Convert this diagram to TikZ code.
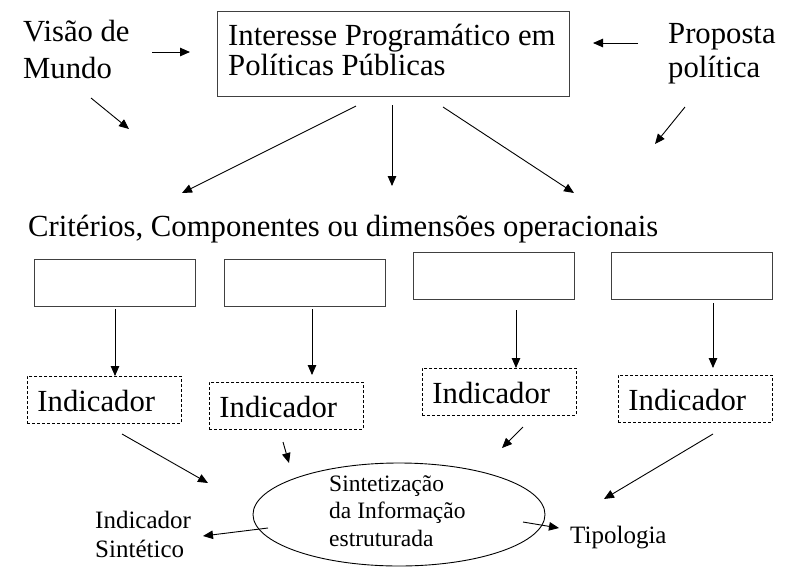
\documentclass[tikz,border=0pt]{standalone}
\usepackage{fontspec}
\setmainfont{Liberation Serif}
\usetikzlibrary{arrows.meta,shapes.geometric}
\tikzset{
  big/.style={font=\fontsize{30.7}{37}\selectfont},
  txt/.style={inner sep=0pt, anchor=base west, align=left},
  arr/.style={draw=black, line width=0.9pt, -{Triangle[length=10pt,width=8.5pt]}},
  solidbox/.style={draw=black!75, line width=0.9pt, rectangle, inner sep=0pt},
  indbox/.style={draw=black, line width=0.9pt, dash pattern=on 3pt off 2pt, rectangle, anchor=base west,
     text width=134pt, inner xsep=10pt, inner ysep=0pt, text height=35pt, text depth=12pt, align=left,
     font=\fontsize{30.7}{37}\selectfont},
}
\begin{document}
\begin{tikzpicture}[x=1pt,y=-1pt]
\useasboundingbox (0,0) rectangle (796,566);
% top texts (multi-line nodes: base = last line baseline)
\node[txt, big] (visao) at (23,78) {Visão de\\Mundo};
\node[txt, font=\fontsize{30.7}{34}\selectfont] (proposta) at (668,77) {Proposta\\política};
\node[solidbox, minimum width=352pt, minimum height=85pt] (main) at (393,53.5) {};
\node[txt, font=\fontsize{30.7}{30}\selectfont] (maintxt) at (228,75) {Interesse Programático em\\Políticas Públicas};
% criteria label
\node[txt, big] (crit) at (28,236) {Critérios, Componentes ou dimensões operacionais};
% component boxes
\node[solidbox, minimum width=161pt, minimum height=47pt] (b1) at (114.5,282.5) {};
\node[solidbox, minimum width=161pt, minimum height=47pt] (b2) at (304.5,282.5) {};
\node[solidbox, minimum width=161pt, minimum height=47pt] (b3) at (493.5,275.5) {};
\node[solidbox, minimum width=161pt, minimum height=47pt] (b4) at (691.5,275.5) {};
% indicator boxes
\node[indbox] (i1) at (27,411) {Indicador};
\node[indbox] (i2) at (209,417) {Indicador};
\node[indbox] (i3) at (422,403) {Indicador};
\node[indbox] (i4) at (618,410) {Indicador};
% synthesis
\node[draw=black, line width=0.9pt, ellipse, minimum width=292pt, minimum height=103pt, inner sep=0pt] (sint) at (399,514.5) {};
\node[txt, font=\fontsize{23.5}{27.5}\selectfont] (sinttxt) at (329,546) {Sintetização\\da Informação\\estruturada};
\node[txt, font=\fontsize{25}{29}\selectfont] (indsint) at (95,557) {Indicador\\Sintético};
\node[txt, font=\fontsize{25}{29}\selectfont] (tipo) at (570,543) {Tipologia};
% free connector ends
\coordinate (c1s) at (152,52);  \coordinate (c1e) at (190,52);
\coordinate (c2s) at (638,43);  \coordinate (c2e) at (593,43);
\coordinate (c3s) at (91,98);   \coordinate (c3e) at (129,129);
\coordinate (c4s) at (685,107); \coordinate (c4e) at (655,144);
\coordinate (c5s) at (356,106); \coordinate (c5e) at (182,193);
\coordinate (c6s) at (392,105); \coordinate (c6e) at (392,186);
\coordinate (c7s) at (443,107); \coordinate (c7e) at (574,193);
\coordinate (c8s) at (115,309); \coordinate (c8e) at (115,376);
\coordinate (c9s) at (312,309); \coordinate (c9e) at (312,375);
\coordinate (c10s) at (516,310); \coordinate (c10e) at (516,368);
\coordinate (c11s) at (713,303); \coordinate (c11e) at (713,368);
\coordinate (c12s) at (122,434); \coordinate (c12e) at (208,483);
\coordinate (c13s) at (283,442); \coordinate (c13e) at (289,463);
\coordinate (c14s) at (523,427); \coordinate (c14e) at (502,448);
\coordinate (c15s) at (713,434); \coordinate (c15e) at (604,499);
\coordinate (c16s) at (268,528); \coordinate (c16e) at (203,536);
\coordinate (c17s) at (523,522); \coordinate (c17e) at (559,528);
\foreach \i in {1,...,17} { \draw[arr] (c\i s) -- (c\i e); }
\end{tikzpicture}
\end{document}
